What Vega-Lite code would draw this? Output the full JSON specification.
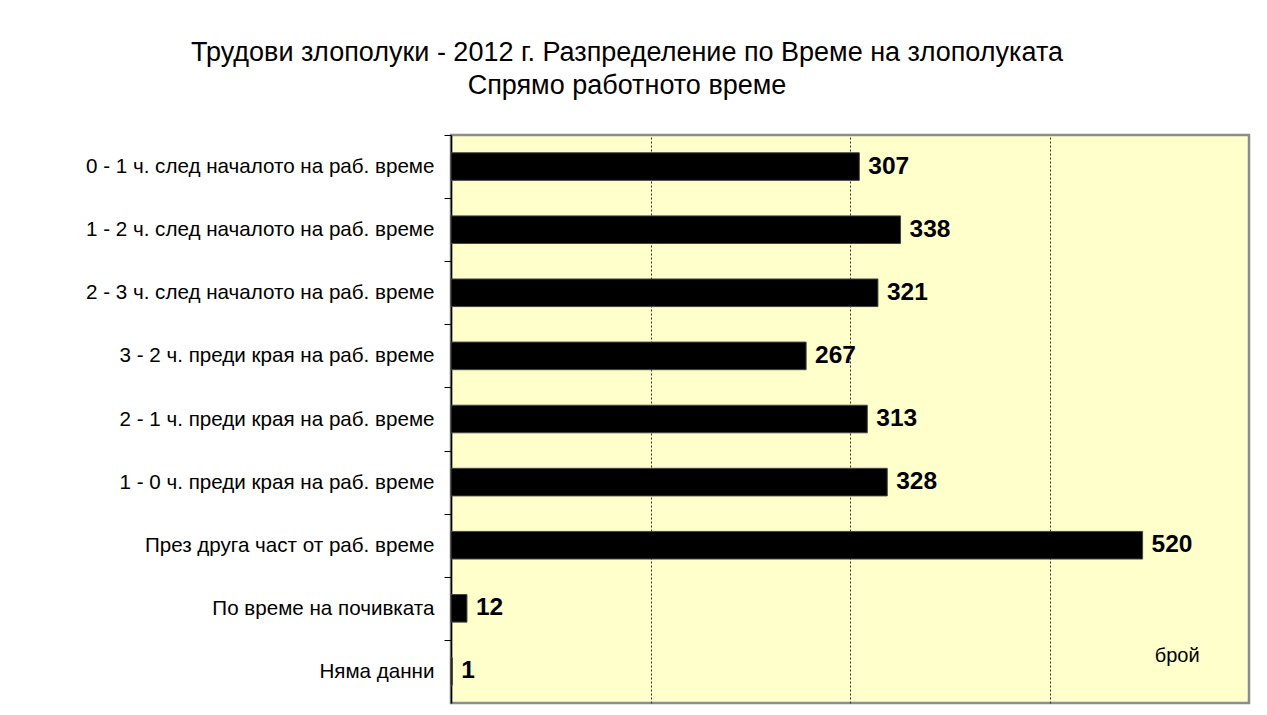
{
  "$schema": "https://vega.github.io/schema/vega-lite/v6.json",
  "autosize": "none",
  "width": 798,
  "height": 568,
  "padding": {"left": 451, "top": 135, "right": 18, "bottom": 12},
  "background": "white",
  "title": {
    "text": ["Трудови злополуки - 2012 г. Разпределение по Време на злополуката", "Спрямо работното време"],
    "font": "Liberation Sans",
    "fontSize": 27,
    "fontWeight": "normal",
    "color": "black",
    "anchor": "middle",
    "frame": "group",
    "dx": -223,
    "offset": 35,
    "lineHeight": 33
  },
  "config": {
    "view": {"fill": "#FFFFCC", "stroke": "#8c8c8c", "strokeWidth": 2.5},
    "font": "Liberation Sans"
  },
  "data": {
    "values": [
      {"cat": "0 - 1 ч. след началото на раб. време", "value": 307},
      {"cat": "1 - 2 ч. след началото на раб. време", "value": 338},
      {"cat": "2 - 3 ч. след началото на раб. време", "value": 321},
      {"cat": "3 - 2 ч. преди края на раб. време", "value": 267},
      {"cat": "2 - 1 ч. преди края на раб. време", "value": 313},
      {"cat": "1 - 0 ч. преди края на раб. време", "value": 328},
      {"cat": "През друга част от раб. време", "value": 520},
      {"cat": "По време на почивката", "value": 12},
      {"cat": "Няма данни", "value": 1}
    ]
  },
  "encoding": {
    "y": {
      "field": "cat",
      "type": "nominal",
      "sort": null,
      "scale": {"paddingInner": 0.563, "paddingOuter": 0.2815},
      "axis": {
        "title": null,
        "labelFont": "Liberation Sans",
        "labelFontSize": 20.6,
        "labelColor": "black",
        "labelPadding": 10,
        "labelLimit": 0,
        "domainColor": "black",
        "domainWidth": 1.5,
        "tickColor": "black",
        "tickSize": 7,
        "tickWidth": 1,
        "tickOffset": -31.55,
        "labelOffset": 31.55,
        "grid": false
      }
    }
  },
  "layer": [
    {
      "mark": {"type": "bar", "color": "black", "stroke": "#444444", "strokeWidth": 1},
      "encoding": {
        "x": {
          "field": "value",
          "type": "quantitative",
          "scale": {"domain": [0, 600], "nice": false},
          "axis": {
            "title": null,
            "values": [150, 300, 450],
            "labels": false,
            "ticks": false,
            "domain": false,
            "grid": true,
            "gridColor": "#333333",
            "gridDash": [2, 2],
            "gridWidth": 1
          }
        }
      }
    },
    {
      "mark": {"type": "text", "align": "left", "baseline": "middle", "dx": 9, "font": "Liberation Sans", "fontSize": 24.5, "fontWeight": "bold", "color": "black"},
      "encoding": {
        "x": {"field": "value", "type": "quantitative"},
        "text": {"field": "value", "type": "quantitative"}
      }
    },
    {
      "data": {"values": [{"cat": "Няма данни", "value": 546, "label": "брой"}]},
      "mark": {"type": "text", "align": "center", "baseline": "middle", "dy": -15, "font": "Liberation Sans", "fontSize": 20, "color": "black"},
      "encoding": {
        "x": {"field": "value", "type": "quantitative"},
        "text": {"field": "label", "type": "nominal"}
      }
    }
  ]
}
